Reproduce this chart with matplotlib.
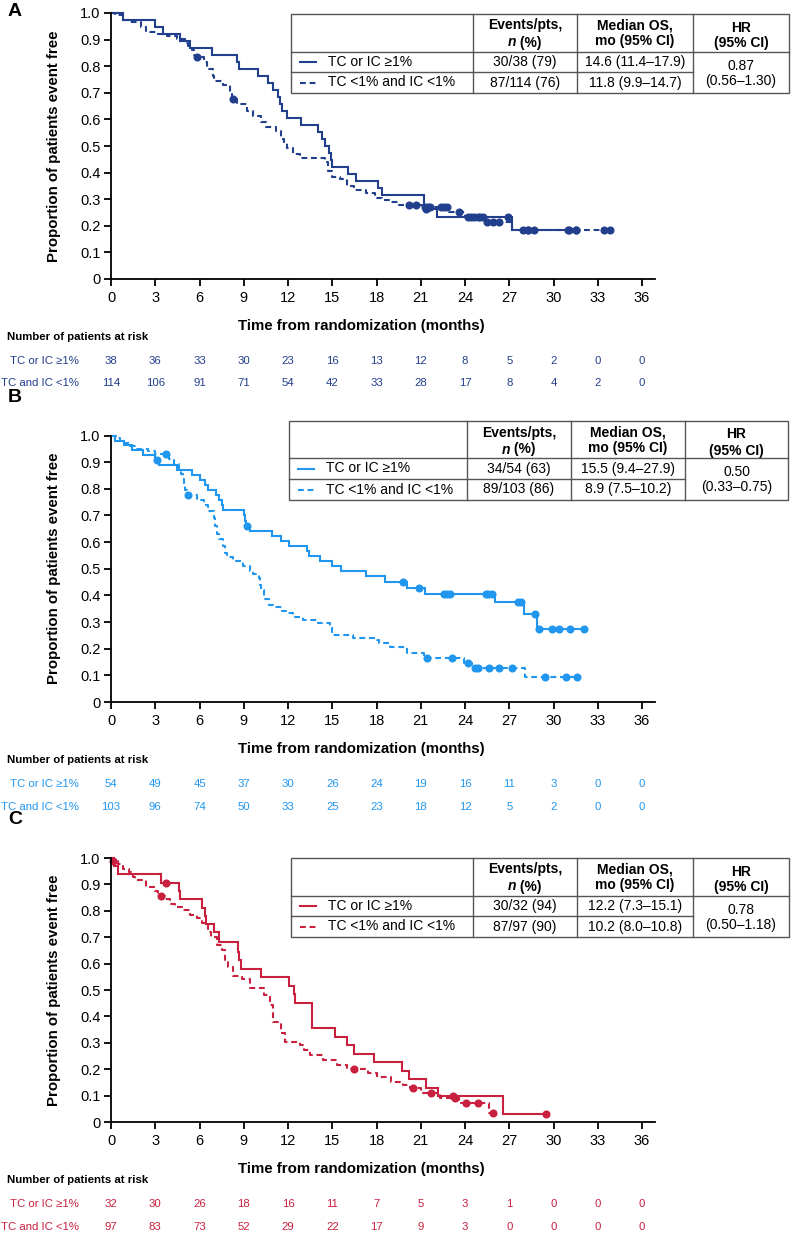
import numpy as np
import matplotlib
matplotlib.use("Agg")
import matplotlib.pyplot as plt
from matplotlib import font_manager as fm
from matplotlib.transforms import blended_transform_factory
from matplotlib.patches import Rectangle

# ------------------------------------------------------------------ data
month_ticks = [0, 3, 6, 9, 12, 15, 18, 21, 24, 27, 30, 33, 36]
prop_ticks = [0, 0.1, 0.2, 0.3, 0.4, 0.5, 0.6, 0.7, 0.8, 0.9, 1.0]
prop_tick_labels = ["0", "0.1", "0.2", "0.3", "0.4", "0.5", "0.6", "0.7", "0.8", "0.9", "1.0"]

legend_labels = ["TC or IC \u22651%", "TC <1% and IC <1%"]
risk_labels = ["TC or IC \u22651%", "TC and IC <1%"]
header_events = ["Events/pts,", "n", " (%)"]
header_median = ["Median OS,", "mo (95% CI)"]
header_hr = ["HR", "(95% CI)"]

# ---- Panel A
a_pos_t = [0.79, 3.0, 3.55, 4.7, 5.37, 6.84, 8.55, 8.7, 9.98, 10.65, 10.99, 11.3, 11.45, 11.6,
           11.95, 12.9, 14.04, 14.29, 14.5, 14.8, 14.9, 15.0, 16.07, 16.63, 18.1, 18.4,
           21.2, 22.1, 27.2]
a_pos_s = [0.974, 0.947, 0.921, 0.895, 0.868, 0.842, 0.816, 0.789, 0.763, 0.737, 0.711, 0.684,
           0.658, 0.632, 0.605, 0.579, 0.553, 0.526, 0.500, 0.474, 0.447, 0.421, 0.395, 0.368,
           0.342, 0.316, 0.263, 0.234, 0.185]
a_pos_cens = [21.35, 24.4, 25.0, 26.9, 27.9, 28.3, 31.0, 31.5]
a_neg_t = [0.3, 0.8, 1.3, 2.0, 2.4, 3.1, 3.8, 4.5, 5.0, 5.2, 5.5, 5.6, 5.7, 6.3, 6.5, 6.6, 6.9,
           7.0, 7.6, 8.1, 8.2, 8.55, 9.2, 9.6, 10.2, 10.5, 11.2, 11.5, 11.7, 11.9, 12.35, 12.8,
           14.5, 14.7, 14.95, 15.5, 16.0, 16.5, 17.3, 17.9, 18.4, 19.0, 19.5, 21.1, 22.9, 24.0,
           25.4, 27.2]
a_neg_s = [0.991, 0.974, 0.965, 0.947, 0.930, 0.921, 0.912, 0.904, 0.886, 0.877, 0.860, 0.842,
           0.834, 0.816, 0.798, 0.790, 0.763, 0.745, 0.728, 0.700, 0.675, 0.658, 0.632, 0.614,
           0.590, 0.572, 0.555, 0.528, 0.510, 0.492, 0.470, 0.455, 0.440, 0.405, 0.385, 0.375,
           0.350, 0.333, 0.325, 0.305, 0.298, 0.289, 0.280, 0.270, 0.250, 0.234, 0.213, 0.185]
a_neg_cens = [5.8, 8.3, 20.2, 20.7, 21.3, 21.5, 21.65, 22.4, 22.6, 22.8, 23.6, 24.2, 24.6, 24.9,
              25.2, 25.5, 25.9, 26.3, 28.3, 28.7, 31.05, 31.55, 33.45, 33.8]
a_risk_pos = [38, 36, 33, 30, 23, 16, 13, 12, 8, 5, 2, 0, 0]
a_risk_neg = [114, 106, 91, 71, 54, 42, 33, 28, 17, 8, 4, 2, 0]
a_events = ["30/38 (79)", "87/114 (76)"]
a_median = ["14.6 (11.4\u201317.9)", "11.8 (9.9\u201314.7)"]
a_hr = ["0.87", "(0.56\u20131.30)"]

# ---- Panel B
b_pos_t = [0.3, 0.85, 1.4, 2.2, 3.0, 3.25, 4.5, 5.5, 6.0, 6.4, 6.6, 7.1, 7.3, 7.5, 7.6, 9.0,
           9.1, 9.15, 9.4, 10.9, 11.5, 12.1, 13.3, 13.4, 14.2, 14.96, 15.6, 17.3, 18.6, 20.05,
           21.3, 26.0, 28.0, 28.85]
b_pos_s = [0.981, 0.963, 0.944, 0.926, 0.907, 0.889, 0.870, 0.852, 0.833, 0.815, 0.796, 0.778,
           0.759, 0.741, 0.722, 0.700, 0.680, 0.660, 0.642, 0.623, 0.605, 0.586, 0.567, 0.549,
           0.528, 0.509, 0.490, 0.471, 0.450, 0.429, 0.406, 0.377, 0.331, 0.273]
b_pos_cens = [3.1, 9.2, 19.8, 20.9, 22.6, 22.75, 22.95, 25.4, 25.55, 25.8, 27.6, 27.8, 28.75,
              29.0, 29.9, 30.4, 31.1, 32.1]
b_neg_t = [0.4, 0.6, 0.9, 1.3, 1.75, 2.5, 3.0, 3.9, 4.3, 4.6, 4.75, 4.85, 4.95, 5.05, 5.15, 5.8,
           6.3, 6.6, 6.95, 7.05, 7.2, 7.3, 7.6, 7.75, 7.85, 8.3, 8.97, 9.4, 9.65, 10.0, 10.1,
           10.2, 10.4, 10.7, 11.1, 11.6, 12.0, 12.36, 13.0, 14.05, 14.85, 14.96, 16.4, 18.0,
           18.2, 18.9, 20.1, 21.2, 23.9, 24.5, 28.1]
b_neg_s = [0.990, 0.981, 0.971, 0.961, 0.951, 0.942, 0.932, 0.913, 0.893, 0.874, 0.855, 0.835,
           0.815, 0.796, 0.777, 0.758, 0.738, 0.718, 0.689, 0.660, 0.630, 0.610, 0.585, 0.560,
           0.545, 0.528, 0.509, 0.490, 0.480, 0.465, 0.440, 0.420, 0.385, 0.365, 0.358, 0.342,
           0.333, 0.320, 0.308, 0.296, 0.283, 0.252, 0.242, 0.233, 0.221, 0.206, 0.183, 0.164,
           0.145, 0.126, 0.095]
b_neg_cens = [3.73, 5.25, 21.4, 23.1, 24.2, 24.7, 24.9, 25.65, 26.3, 27.2, 29.4, 30.85, 31.6]
b_risk_pos = [54, 49, 45, 37, 30, 26, 24, 19, 16, 11, 3, 0, 0]
b_risk_neg = [103, 96, 74, 50, 33, 25, 23, 18, 12, 5, 2, 0, 0]
b_events = ["34/54 (63)", "89/103 (86)"]
b_median = ["15.5 (9.4\u201327.9)", "8.9 (7.5\u201310.2)"]
b_hr = ["0.50", "(0.33\u20130.75)"]

# ---- Panel C
c_pos_t = [0.2, 0.5, 3.4, 4.6, 4.65, 6.15, 6.4, 6.44, 6.98, 7.3, 8.6, 8.7, 8.8, 10.15, 12.1,
           12.4, 12.5, 13.65, 15.2, 16.0, 16.45, 17.8, 19.75, 20.2, 21.35, 22.2, 26.6]
c_pos_s = [0.969, 0.938, 0.906, 0.875, 0.843, 0.812, 0.781, 0.749, 0.718, 0.681, 0.645, 0.613,
           0.581, 0.549, 0.516, 0.484, 0.452, 0.355, 0.323, 0.290, 0.258, 0.226, 0.194, 0.161,
           0.129, 0.097, 0.032]
c_pos_cens = [3.73, 23.2, 29.5]
c_neg_t = [0.1, 0.5, 0.84, 1.2, 1.5, 1.6, 2.4, 3.0, 3.2, 3.66, 4.0, 4.35, 4.9, 5.35, 5.8, 6.15,
           6.6, 6.8, 7.2, 7.5, 7.7, 7.95, 8.3, 8.9, 9.45, 10.4, 10.78, 11.0, 11.5, 11.8, 12.8,
           13.1, 13.5, 14.4, 15.3, 16.0, 17.4, 18.0, 19.0, 19.8, 20.3, 21.05, 22.3, 23.6, 25.6]
c_neg_s = [0.990, 0.979, 0.960, 0.948, 0.928, 0.918, 0.890, 0.876, 0.856, 0.845, 0.825, 0.814,
           0.804, 0.783, 0.773, 0.752, 0.720, 0.700, 0.670, 0.652, 0.614, 0.588, 0.553, 0.541,
           0.506, 0.480, 0.443, 0.380, 0.336, 0.304, 0.292, 0.273, 0.254, 0.235, 0.216, 0.200,
           0.184, 0.169, 0.153, 0.141, 0.128, 0.109, 0.090, 0.071, 0.035]
c_neg_cens = [0.16, 3.37, 16.5, 20.5, 21.67, 23.3, 24.1, 24.9, 25.9]
c_risk_pos = [32, 30, 26, 18, 16, 11, 7, 5, 3, 1, 0, 0, 0]
c_risk_neg = [97, 83, 73, 52, 29, 22, 17, 9, 3, 0, 0, 0, 0]
c_events = ["30/32 (94)", "87/97 (90)"]
c_median = ["12.2 (7.3\u201315.1)", "10.2 (8.0\u201310.8)"]
c_hr = ["0.78", "(0.50\u20131.18)"]

# ------------------------------------------------------------------ style
W, H = 791, 1235
names = {f.name for f in fm.fontManager.ttflist}
SANS = "Liberation Sans" if "Liberation Sans" in names else "DejaVu Sans"
NARROW = "Liberation Sans Narrow" if "Liberation Sans Narrow" in names else SANS
plt.rcParams["font.family"] = [SANS, "DejaVu Sans"]

panels = [
    dict(letter="A", color="#213F8C", top=13, bottom=279,
         pos=(a_pos_t, a_pos_s, a_pos_cens), neg=(a_neg_t, a_neg_s, a_neg_cens),
         risk=(a_risk_pos, a_risk_neg), events=a_events, median=a_median, hr=a_hr,
         tab=dict(left=291, cols=[473, 577, 693], right=789, top=14, hb=52, rm=72, bot=93)),
    dict(letter="B", color="#2196EE", top=435.5, bottom=702,
         pos=(b_pos_t, b_pos_s, b_pos_cens), neg=(b_neg_t, b_neg_s, b_neg_cens),
         risk=(b_risk_pos, b_risk_neg), events=b_events, median=b_median, hr=b_hr,
         tab=dict(left=289, cols=[467, 571, 685], right=788, top=421, hb=458, rm=479, bot=500)),
    dict(letter="C", color="#C8203E", top=858, bottom=1122,
         pos=(c_pos_t, c_pos_s, c_pos_cens), neg=(c_neg_t, c_neg_s, c_neg_cens),
         risk=(c_risk_pos, c_risk_neg), events=c_events, median=c_median, hr=c_hr,
         tab=dict(left=291, cols=[473, 577, 693], right=789, top=858, hb=896, rm=916, bot=937)),
]

fig = plt.figure(figsize=(W / 100, H / 100), dpi=100)
ov = fig.add_axes([0, 0, 1, 1], zorder=10)
ov.set_xlim(0, W)
ov.set_ylim(H, 0)
ov.axis("off")
ov.patch.set_visible(False)
renderer = fig.canvas.get_renderer()

AX_L, AX_R = 111, 655
XMAX = 36.88
TAB_FS = 10
GRID = "#555555"


def draw_km(ax, t, s, cens, color, ls):
    t = np.asarray(t, float)
    s = np.asarray(s, float)
    cens = np.asarray(cens, float)
    end = max(t.max(), cens.max())
    x = np.concatenate([[0.0], t, [end]])
    y = np.concatenate([[1.0], s, [s[-1]]])
    ax.step(x, y, where="post", color=color, lw=1.5, linestyle=ls, clip_on=False,
            solid_joinstyle="miter")
    idx = np.searchsorted(t, cens, side="right") - 1
    cv = np.where(idx >= 0, s[np.clip(idx, 0, None)], 1.0)
    ax.plot(cens, cv, "o", color=color, ms=4.8, linestyle="none", clip_on=False)


def text_width(txt, **kw):
    t = ov.text(0, 0, txt, **kw)
    w = t.get_window_extent(renderer).width
    t.remove()
    return w


def draw_table(p):
    g = p["tab"]
    col = p["color"]
    L, R, T, HB, RM, B = g["left"], g["right"], g["top"], g["hb"], g["rm"], g["bot"]
    c1, c2, c3 = g["cols"]
    ov.add_patch(Rectangle((L, T), R - L, B - T, facecolor="white", edgecolor=GRID, lw=1.0))
    for cx in (c1, c2, c3):
        ov.plot([cx, cx], [T, B], color=GRID, lw=1.0)
    ov.plot([L, R], [HB, HB], color=GRID, lw=1.0)
    ov.plot([L, c3], [RM, RM], color=GRID, lw=1.0)
    h1, h2 = T + 11.5, T + 28.5
    # header: Events/pts, n (%)
    m1 = (c1 + c2) / 2
    ov.text(m1, h1, header_events[0], ha="center", va="center", fontsize=TAB_FS, fontweight="bold")
    wn = text_width(header_events[1], fontsize=TAB_FS, fontweight="bold", fontstyle="italic")
    wr = text_width(header_events[2], fontsize=TAB_FS, fontweight="bold")
    x0 = m1 - (wn + wr) / 2 + wn
    ov.text(x0, h2, header_events[1], ha="right", va="center", fontsize=TAB_FS,
            fontweight="bold", fontstyle="italic")
    ov.text(x0, h2, header_events[2], ha="left", va="center", fontsize=TAB_FS, fontweight="bold")
    m2 = (c2 + c3) / 2
    ov.text(m2, h1, header_median[0], ha="center", va="center", fontsize=TAB_FS, fontweight="bold")
    ov.text(m2, h2 - 1.5, header_median[1], ha="center", va="center", fontsize=TAB_FS, fontweight="bold")
    m3 = (c3 + R) / 2
    ov.text(m3, h1 + 2, header_hr[0], ha="center", va="center", fontsize=TAB_FS, fontweight="bold")
    ov.text(m3, h2 + 1, header_hr[1], ha="center", va="center", fontsize=TAB_FS, fontweight="bold")
    rows_y = [(HB + RM) / 2, (RM + B) / 2]
    styles = ["-", (0, (2.8, 1.8))]
    for i, ry in enumerate(rows_y):
        ov.plot([L + 9, L + 25], [ry, ry], color=col, lw=1.5, linestyle=styles[i])
        ov.text(L + 37, ry, legend_labels[i], ha="left", va="center", fontsize=TAB_FS)
        ov.text(m1, ry, p["events"][i], ha="center", va="center", fontsize=TAB_FS)
        ov.text(m2, ry, p["median"][i], ha="center", va="center", fontsize=TAB_FS)
    ov.text(m3, HB + 14.5, p["hr"][0], ha="center", va="center", fontsize=TAB_FS)
    ov.text(m3, HB + 29.5, p["hr"][1], ha="center", va="center", fontsize=TAB_FS)


for p in panels:
    top, bot = p["top"], p["bottom"]
    ax = fig.add_axes([AX_L / W, 1 - bot / H, (AX_R - AX_L) / W, (bot - top) / H])
    ax.set_xlim(0, XMAX)
    ax.set_ylim(0, 1.0)
    for sp in ("top", "right"):
        ax.spines[sp].set_visible(False)
    for sp in ("left", "bottom"):
        ax.spines[sp].set_linewidth(1.3)
    ax.set_xticks(month_ticks)
    ax.set_xticklabels([str(m) for m in month_ticks], fontfamily=NARROW, fontsize=10.5)
    ax.set_yticks(prop_ticks)
    ax.set_yticklabels(prop_tick_labels, fontsize=10.5)
    ax.tick_params(axis="both", direction="out", length=5, width=1.3, color="black")
    ax.tick_params(axis="y", pad=2.5)
    ax.tick_params(axis="x", pad=3.5)
    ax.set_xlabel("Time from randomization (months)", fontsize=10.8, fontweight="bold")
    ax.xaxis.set_label_coords((361 - AX_L) / (AX_R - AX_L), -40 / (bot - top))
    ax.set_ylabel("Proportion of patients event free", fontsize=10.8, fontweight="bold")
    ax.yaxis.set_label_coords((61 - AX_L) / (AX_R - AX_L), 0.5)
    col = p["color"]
    draw_km(ax, *p["pos"], color=col, ls="-")
    draw_km(ax, *p["neg"], color=col, ls=(0, (2.8, 1.8)))

    # panel letter
    ov.text(8, top - 1 if p["letter"] == "A" else top - 38, p["letter"], ha="left", va="center",
            fontsize=14, fontweight="bold")

    # risk table
    ov.text(7, bot + 58, "Number of patients at risk", ha="left", va="center",
            fontsize=8.2, fontweight="bold")
    tr = blended_transform_factory(ax.transData, ov.transData)
    for r, (lab, vals) in enumerate(zip(risk_labels, p["risk"])):
        ry = bot + 82 + 22.5 * r
        ov.text(79, ry, lab, ha="right", va="center", fontsize=8.2, color=col)
        for m, v in zip(month_ticks, vals):
            ov.text(m, ry, str(v), transform=tr, ha="center", va="center", fontsize=8.2,
                    color=col, clip_on=False)

    draw_table(p)

fig.savefig("out.png", dpi=100)
